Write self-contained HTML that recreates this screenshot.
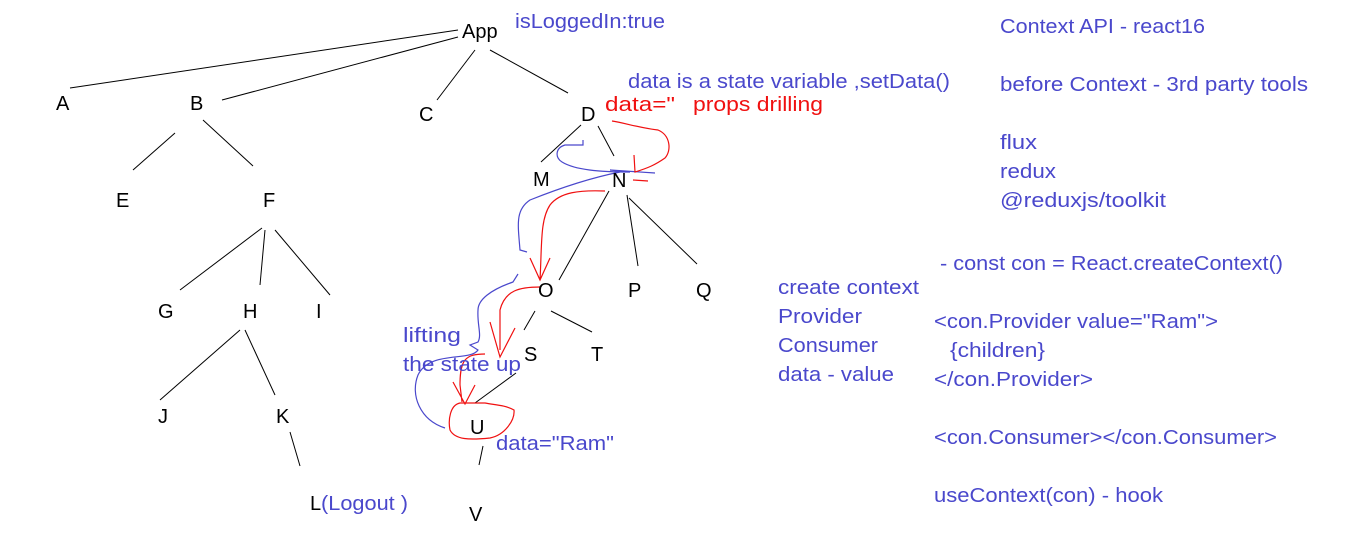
<!DOCTYPE html>
<html><head><meta charset="utf-8"><style>
html,body{margin:0;padding:0;background:#fff;}
svg{display:block;}
text{font-family:"Liberation Sans",sans-serif;font-size:20px;}
.k{fill:#000;}
.b{fill:#4a48cc;}
.r{fill:#f01010;}
</style></head><body>
<svg width="1360" height="551" viewBox="0 0 1360 551" xmlns="http://www.w3.org/2000/svg">
<g stroke="#000" stroke-width="1" fill="none">
<line x1="458" y1="30" x2="70" y2="88"/>
<line x1="458" y1="37" x2="222" y2="100"/>
<line x1="475" y1="50" x2="437" y2="100"/>
<line x1="490" y1="50" x2="568" y2="93"/>
<line x1="203" y1="120" x2="253" y2="166"/>
<line x1="175" y1="133" x2="133" y2="170"/>
<line x1="262" y1="228" x2="180" y2="290"/>
<line x1="265" y1="230" x2="260" y2="285"/>
<line x1="275" y1="230" x2="330" y2="295"/>
<line x1="240" y1="330" x2="160" y2="400"/>
<line x1="245" y1="330" x2="275" y2="395"/>
<line x1="290" y1="432" x2="300" y2="466"/>
<line x1="581" y1="125" x2="541" y2="162"/>
<line x1="598" y1="126" x2="614" y2="156"/>
<line x1="609" y1="191" x2="559" y2="280"/>
<line x1="627" y1="195" x2="638" y2="266"/>
<line x1="629" y1="198" x2="697" y2="264"/>
<line x1="535" y1="311" x2="524" y2="330"/>
<line x1="551" y1="311" x2="592" y2="332"/>
<line x1="516" y1="373" x2="475" y2="403"/>
<line x1="483" y1="446" x2="479" y2="465"/>
</g>
<g stroke="#4a48cc" stroke-width="1.2" fill="none">
<path d="M583 140 L583 145 L565 145 C555 148 555 158 562 162 C575 170 600 172 630 172 L610 170 L655 173"/>
<path d="M620 172 C590 178 560 188 530 200 C515 210 518 225 520 250 L527 252"/>
<path d="M518 274 L513 282 C490 290 478 300 478 310 C477 325 482 335 478 342 L470 345 L478 350 C470 362 430 350 418 375 C410 395 420 420 445 428"/>
</g>
<g stroke="#f01010" stroke-width="1.2" fill="none">
<path d="M612 121 C625 123 640 128 658 130 C670 135 672 150 665 158 C655 165 648 168 635 172 L634 155 M633 180 L648 181"/>
<path d="M605 191 C580 190 560 192 550 205 C540 220 542 245 540 280 M530 258 L540 280 L550 258"/>
<path d="M540 287 C520 287 505 290 500 310 L500 350 M490 322 L500 357 L515 328"/>
<path d="M485 354 C465 354 460 360 460 385 L462 402 M453 382 L465 404 L475 385"/>
<path d="M460 403 C450 405 448 420 450 430 C455 440 470 440 490 438 C505 435 515 420 514 410 C505 405 495 405 485 403 Z"/>
</g>
<text class="k" x="462" y="38">App</text>
<text class="b" x="515" y="28" textLength="150" lengthAdjust="spacingAndGlyphs">isLoggedIn:true</text>
<text class="k" x="56" y="110">A</text>
<text class="k" x="190" y="110">B</text>
<text class="k" x="419" y="121">C</text>
<text class="k" x="581" y="121">D</text>
<text class="b" x="628" y="88" textLength="322" lengthAdjust="spacingAndGlyphs">data is a state variable ,setData()</text>
<text class="r" x="605" y="111" textLength="70" lengthAdjust="spacingAndGlyphs">data="</text>
<text class="r" x="693" y="111" textLength="130" lengthAdjust="spacingAndGlyphs">props drilling</text>
<text class="k" x="533" y="186">M</text>
<text class="k" x="612" y="187">N</text>
<text class="k" x="116" y="207">E</text>
<text class="k" x="263" y="207">F</text>
<text class="k" x="538" y="297">O</text>
<text class="k" x="628" y="297">P</text>
<text class="k" x="696" y="297">Q</text>
<text class="k" x="158" y="318">G</text>
<text class="k" x="243" y="318">H</text>
<text class="k" x="316" y="318">I</text>
<text class="b" x="403" y="342" textLength="58" lengthAdjust="spacingAndGlyphs">lifting</text>
<text class="b" x="403" y="371" textLength="118" lengthAdjust="spacingAndGlyphs">the state up</text>
<text class="k" x="524" y="361">S</text>
<text class="k" x="591" y="361">T</text>
<text class="k" x="158" y="423">J</text>
<text class="k" x="276" y="423">K</text>
<text class="k" x="470" y="434">U</text>
<text class="b" x="496" y="450" textLength="118" lengthAdjust="spacingAndGlyphs">data="Ram"</text>
<text class="k" x="310" y="510">L</text>
<text class="b" x="321" y="510" textLength="87" lengthAdjust="spacingAndGlyphs">(Logout )</text>
<text class="k" x="469" y="521">V</text>
<text class="b" x="778" y="294" textLength="141" lengthAdjust="spacingAndGlyphs">create context</text>
<text class="b" x="778" y="323" textLength="84" lengthAdjust="spacingAndGlyphs">Provider</text>
<text class="b" x="778" y="352" textLength="100" lengthAdjust="spacingAndGlyphs">Consumer</text>
<text class="b" x="778" y="381" textLength="116" lengthAdjust="spacingAndGlyphs">data - value</text>
<text class="b" x="1000" y="33" textLength="205" lengthAdjust="spacingAndGlyphs">Context API - react16</text>
<text class="b" x="1000" y="91" textLength="308" lengthAdjust="spacingAndGlyphs">before Context - 3rd party tools</text>
<text class="b" x="1000" y="149" textLength="37" lengthAdjust="spacingAndGlyphs">flux</text>
<text class="b" x="1000" y="178" textLength="56" lengthAdjust="spacingAndGlyphs">redux</text>
<text class="b" x="1000" y="207" textLength="166" lengthAdjust="spacingAndGlyphs">@reduxjs/toolkit</text>
<text class="b" x="940" y="270" textLength="343" lengthAdjust="spacingAndGlyphs">- const con = React.createContext()</text>
<text class="b" x="934" y="328" textLength="284" lengthAdjust="spacingAndGlyphs">&lt;con.Provider value="Ram"&gt;</text>
<text class="b" x="950" y="357" textLength="95" lengthAdjust="spacingAndGlyphs">{children}</text>
<text class="b" x="934" y="386" textLength="159" lengthAdjust="spacingAndGlyphs">&lt;/con.Provider&gt;</text>
<text class="b" x="934" y="444" textLength="343" lengthAdjust="spacingAndGlyphs">&lt;con.Consumer&gt;&lt;/con.Consumer&gt;</text>
<text class="b" x="934" y="502" textLength="229" lengthAdjust="spacingAndGlyphs">useContext(con) - hook</text>
</svg>
</body></html>
